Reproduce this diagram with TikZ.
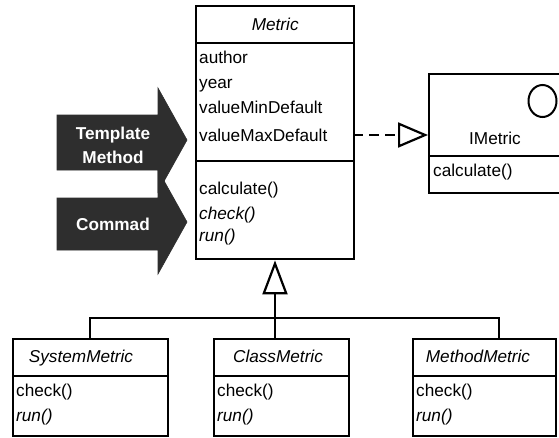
\documentclass[tikz,border=0pt]{standalone}
\usepackage{fontspec}
\setmainfont{Liberation Sans}
\usetikzlibrary{arrows.meta,shapes.geometric}
\definecolor{patternfill}{HTML}{2E2E2E}
\tikzset{
  umlbox/.style={draw, line width=2.4pt, rectangle, inner sep=0pt, anchor=north west,
    font=\fontsize{17.2}{20}\selectfont},
  member/.style={inner sep=0pt, anchor=base west, font=\fontsize{17.2}{20}\selectfont},
  caption/.style={inner sep=0pt, anchor=base, font=\fontsize{17.2}{20}\selectfont\itshape},
  patternarrow/.style={fill=patternfill, draw=patternfill, line width=0.6pt, line join=miter},
  patternlabel/.style={text=white, inner sep=0pt, align=center,
    font=\fontsize{17.2}{24}\selectfont\bfseries},
  connector/.style={line width=2.2pt},
  realizes/.style={connector, dash pattern=on 10pt off 6pt,
    -{Triangle[open, length=30pt, width=25pt, line width=2.2pt]}},
  generalizes/.style={connector,
    {Triangle[open, length=34pt, width=25pt, line width=2.2pt]}-}
}
\begin{document}
\begin{tikzpicture}[x=1pt, y=-1pt]
\clip (0,0) rectangle (559,437);
\fill[white] (0,0) rectangle (559,437);

% pattern arrows on the left
\path[patternarrow] (57,115) -- (158,115) -- (158,88) -- (187,140) -- (158,192)
  -- (158,170) -- (57,170) -- cycle;
\path[patternarrow] (57,198) -- (158,198) -- (158,170) -- (187,222) -- (158,274)
  -- (158,250) -- (57,250) -- cycle;
\node[patternlabel] (tmlabel) at (113,145) {Template\\Method};
\node[patternlabel] (cmdlabel) at (113,224) {Commad};

% abstract class Metric
\node[umlbox, minimum width=158pt, minimum height=37pt] (mtitle) at (195,5) {\itshape Metric};
\node[umlbox, minimum width=158pt, minimum height=118pt] (mattr) at (195,42) {};
\node[umlbox, minimum width=158pt, minimum height=98pt] (mops) at (195,160) {};
\node[member] (ma1) at (199,63) {author};
\node[member] (ma2) at (199,88) {year};
\node[member] (ma3) at (199,113) {valueMinDefault};
\node[member] (ma4) at (199,141) {valueMaxDefault};
\node[member] (mo1) at (199,194) {calculate()};
\node[member] (mo2) at (199,219) {\itshape check()};
\node[member] (mo3) at (199,241) {\itshape run()};

% interface IMetric
\node[umlbox, minimum width=150pt, minimum height=82pt] (ititle) at (428,73) {};
\node[umlbox, minimum width=150pt, minimum height=37pt] (iops) at (428,155) {};
\node[draw, ellipse, line width=2pt, minimum width=28pt, minimum height=32pt,
  inner sep=0pt] (iicon) at (542.5,101) {};
\node[inner sep=0pt, anchor=base, font=\fontsize{17.2}{20}\selectfont] (iname) at (495,144) {IMetric};
\node[member] (io1) at (433,176) {calculate()};

% subclasses
\node[umlbox, minimum width=155pt, minimum height=37pt] (stitle) at (12,338) {};
\node[umlbox, minimum width=155pt, minimum height=60pt] (sops) at (12,375) {};
\node[caption] (sname) at (81,362) {SystemMetric};
\node[member] (so1) at (16,396) {check()};
\node[member] (so2) at (16,421) {\itshape run()};

\node[umlbox, minimum width=135pt, minimum height=37pt] (ctitle) at (213,338) {};
\node[umlbox, minimum width=135pt, minimum height=60pt] (cops) at (213,375) {};
\node[caption] (cname) at (278,362) {ClassMetric};
\node[member] (co1) at (217,396) {check()};
\node[member] (co2) at (217,421) {\itshape run()};

\node[umlbox, minimum width=143pt, minimum height=37pt] (ttitle) at (412,338) {};
\node[umlbox, minimum width=143pt, minimum height=60pt] (tops) at (412,375) {};
\node[caption] (tname) at (478,362) {MethodMetric};
\node[member] (to1) at (416,396) {check()};
\node[member] (to2) at (416,421) {\itshape run()};

% realization of IMetric
\coordinate (rz) at (353,135);
\draw[realizes] (rz) -- (rz -| ititle.west);

% generalization tree
\coordinate (bus) at (275,318);
\coordinate (sdrop) at (90,318);
\coordinate (tdrop) at (499,318);
\draw[generalizes] (bus |- mops.south) -- (bus |- ctitle.north);
\draw[connector] (sdrop |- stitle.north) -- (sdrop) -- (tdrop) -- (tdrop |- ttitle.north);
\end{tikzpicture}
\end{document}
